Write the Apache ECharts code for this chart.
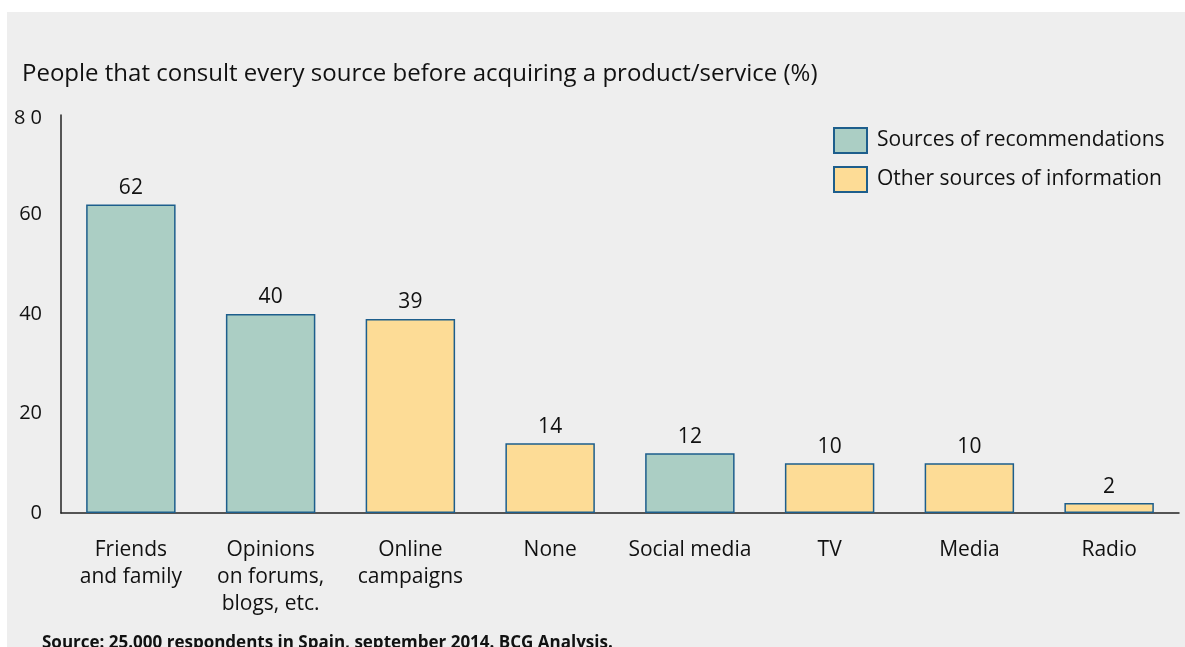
<!DOCTYPE html>
<html>
<head>
<meta charset="utf-8">
<script src="https://cdn.jsdelivr.net/npm/echarts@6/dist/echarts.min.js"></script>
<style>
  html, body { margin: 0; padding: 0; background: #ffffff; }
  #chart { width: 1185px; height: 647px; }
</style>
</head>
<body>
<div id="chart"></div>
<script>
// Survey data: share of people consulting each source (%)
const categories = [
  'Friends\nand family',
  'Opinions\non forums,\nblogs, etc.',
  'Online\ncampaigns',
  'None',
  'Social media',
  'TV',
  'Media',
  'Radio'
];
const recommendationSources = [62, 40, null, null, 12, null, null, null];
const otherSources = [null, null, 39, 14, null, 10, 10, 2];
const yTicks = [0, 20, 40, 60, 80];

const FONT = '"Open Sans", "Noto Sans", sans-serif';
const GREEN = '#abcec4';
const YELLOW = '#fddc96';
const EDGE = '#1d5e8c';

const chart = echarts.init(document.getElementById('chart'), null, { renderer: 'canvas' });

function barSeries(name, data, color) {
  return {
    name: name,
    type: 'bar',
    stack: 'all',
    data: data.map(v => (v === null ? '-' : v)),
    barWidth: '64%',
    itemStyle: { color: color, borderColor: EDGE, borderWidth: 1.5 },
    label: {
      show: true,
      position: 'top',
      distance: 6,
      color: '#111',
      fontFamily: FONT,
      fontSize: 21
    }
  };
}

chart.setOption({
  backgroundColor: '#ffffff',
  animation: false,
  title: [{
    text: 'People that consult every source before acquiring a product/service (%)',
    left: 17,
    top: 57,
    textStyle: { fontFamily: FONT, fontSize: 24, fontWeight: 'normal', color: '#111' }
  }, {
    text: 'Source: 25.000 respondents in Spain, september 2014. BCG Analysis.',
    left: 37,
    top: 630,
    textStyle: { fontFamily: FONT, fontSize: 17, fontWeight: 'bold', color: '#111' }
  }],
  graphic: [{
    type: 'rect',
    z: -10,
    silent: true,
    shape: { x: 7, y: 12, width: 1178, height: 635 },
    style: { fill: '#eeeeee' }
  }],
  legend: {
    orient: 'vertical',
    left: 833,
    top: 127,
    padding: 0,
    icon: 'rect',
    itemWidth: 33,
    itemHeight: 25,
    itemGap: 12,
    selectedMode: false,
    textStyle: { fontFamily: FONT, fontSize: 21, color: '#111', padding: [0, 0, 0, 5] },
    data: ['Sources of recommendations', 'Other sources of information']
  },
  grid: { left: 61, right: 6, top: 115, bottom: 134, containLabel: false },
  xAxis: {
    type: 'category',
    data: categories,
    axisLine: { lineStyle: { color: '#222', width: 1.5 } },
    axisTick: { show: false },
    axisLabel: {
      interval: 0,
      margin: 24,
      lineHeight: 27,
      fontFamily: FONT,
      fontSize: 21,
      color: '#111'
    }
  },
  yAxis: {
    type: 'value',
    min: yTicks[0],
    max: yTicks[yTicks.length - 1],
    interval: 20,
    splitLine: { show: false },
    axisTick: { show: false },
    axisLine: { show: true, lineStyle: { color: '#222', width: 1.5 } },
    axisLabel: {
      margin: 19,
      fontFamily: FONT,
      fontSize: 20,
      color: '#111',
      formatter: v => (v === 80 ? '{top|8 0}' : String(v)),
      rich: {
        top: { fontFamily: FONT, fontSize: 20, color: '#111', padding: [6, 0, 0, 0] }
      }
    }
  },
  series: [
    barSeries('Sources of recommendations', recommendationSources, GREEN),
    barSeries('Other sources of information', otherSources, YELLOW)
  ]
});
</script>
</body>
</html>
